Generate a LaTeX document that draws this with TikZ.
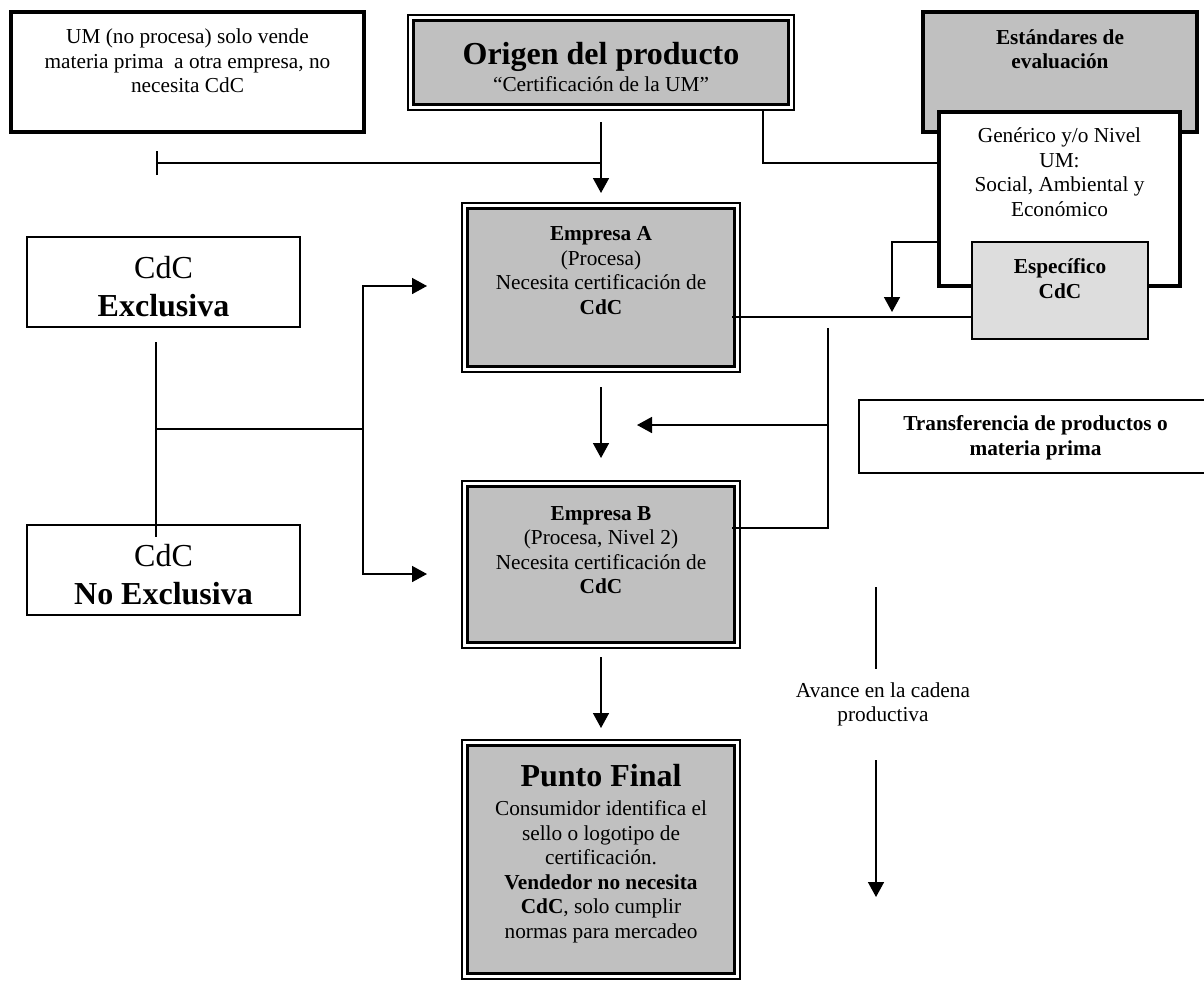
\documentclass[tikz,border=0pt]{standalone}
\usepackage{fontspec}
\setmainfont{Liberation Serif}
\usetikzlibrary{arrows.meta,calc}
\definecolor{boxgray}{HTML}{C0C0C0}
\definecolor{palegray}{HTML}{DDDDDD}
\newcommand{\bodyfont}{\fontsize{21.3}{24.5}\selectfont}
\newcommand{\titlefont}{\fontsize{32}{34}\selectfont\bfseries}
\begin{document}
\begin{tikzpicture}[x=1pt,y=-1pt,
  box/.style={draw, anchor=north west, inner sep=0pt, outer sep=0pt},
  plainbox/.style={box, line width=2pt, fill=white},
  heavybox/.style={box, line width=3.3pt},
  dframe/.style={box, line width=2.2pt, fill=white,
    path picture={\path[fill=boxgray, draw=black, line width=3.3pt]
      ($(path picture bounding box.north west)+(5.5,5.5)$) rectangle
      ($(path picture bounding box.south east)+(-5.5,-5.5)$);}},
  txt/.style={align=center, inner sep=0pt, font=\bodyfont},
  line/.style={line width=1.5pt},
  arr/.style={line width=1.6pt, -{Triangle[length=15pt,width=16pt]}},
]
\useasboundingbox (0,0) rectangle (1204,980);

% boxes
\node[heavybox, fill=white, minimum width=353, minimum height=120] (um) at (11,12) {};
\node[dframe, minimum width=386, minimum height=95] (origen) at (408,15) {};
\node[heavybox, fill=boxgray, minimum width=274, minimum height=120] (estd) at (923,12) {};
\node[heavybox, fill=white, minimum width=241, minimum height=174] (gen) at (939,112) {};
\node[box, line width=2.2pt, fill=palegray, minimum width=176, minimum height=97] (esp) at (972,242) {};
\node[dframe, minimum width=278, minimum height=169] (empA) at (462,203) {};
\node[dframe, minimum width=278, minimum height=167] (empB) at (462,481) {};
\node[dframe, minimum width=278, minimum height=239] (final) at (462,740) {};
\node[plainbox, minimum width=273, minimum height=90] (excl) at (27,237) {};
\node[plainbox, minimum width=273, minimum height=90] (noexcl) at (27,525) {};
\node[box, line width=1.8pt, fill=white, minimum width=353, minimum height=73] (transf) at (859,400) {};

% texts
\node[txt] (um-t) at (187.5,61) {UM (no procesa) solo vende\\materia prima~ a otra empresa, no\\necesita CdC};
\node[txt] (origen-t) at (601,67) {{\titlefont Origen del producto}\\[3.5pt]“Certificación de la UM”};
\node[txt, font=\bodyfont\bfseries] (estd-t) at (1060,49) {Estándares de\\evaluación};
\node[txt] (gen-t) at (1059.5,172) {Genérico y/o Nivel\\UM:\\Social, Ambiental y\\Económico};
\node[txt, font=\bodyfont\bfseries] (esp-t) at (1060,278.5) {Específico\\CdC};
\node[txt] (empA-t) at (601,270.5) {\textbf{Empresa A}\\(Procesa)\\Necesita certificación de\\\textbf{CdC}};
\node[txt] (empB-t) at (601,550) {\textbf{Empresa B}\\(Procesa, Nivel 2)\\Necesita certificación de\\\textbf{CdC}};
\node[txt] (final-t) at (601,853.5) {{\titlefont Punto Final}\\[4.5pt]Consumidor identifica el\\sello o logotipo de\\certificación.\\\textbf{Vendedor no necesita}\\\textbf{CdC}, solo cumplir\\normas para mercadeo};
\node[txt, font=\fontsize{32}{38}\selectfont] (excl-t) at (163.5,286.5) {CdC\\\textbf{Exclusiva}};
\node[txt, font=\fontsize{32}{38}\selectfont] (noexcl-t) at (163.5,574.5) {CdC\\\textbf{No Exclusiva}};
\node[txt, font=\bodyfont\bfseries] (transf-t) at (1035.5,438) {Transferencia de productos o\\materia prima};
\node[txt] (avance) at (883,704.5) {Avance en la cadena\\productiva};

% connector end points
\coordinate (umtick) at (156,163);
\coordinate (genout) at (939,242);
\coordinate (esptip) at (892,312);
\coordinate (aout) at (732,317);
\coordinate (bout) at (732,528);
\coordinate (fbtop) at (828,328);
\coordinate (fbmid) at (828,425);
\coordinate (fbtip) at (637,425);
\coordinate (ctop) at (156,342);
\coordinate (cbot) at (156,537);
\coordinate (cjoin) at (156,429);
\coordinate (csplit) at (363,429);
\coordinate (tipA) at (427,286);
\coordinate (tipB) at (427,574);
\coordinate (av1) at (876,587);
\coordinate (av2) at (876,669);
\coordinate (av3) at (876,760);
\coordinate (av4) at (876,897);

% main flow
\draw[arr] ($(origen.south)+(0,12)$) -- ($(empA.north)+(0,-10)$);
\draw[arr] ($(empA.south)+(0,15)$) -- ($(empB.north)+(0,-23)$);
\draw[arr] ($(empB.south)+(0,9)$) -- ($(final.north)+(0,-12)$);

% raw material sold by the UM
\draw[line, {Bar[width=24pt]}-] (umtick) -- (umtick -| origen.south);

% evaluation standards
\draw[line] ($(origen.south east)+(-31,0)$) |- (gen.west |- umtick);
\draw[arr] (genout) -| (esptip);
\draw[line] (aout) -- (aout -| esp.west);
\draw[line] (bout) -| (fbtop);
\draw[arr] (fbmid) -- (fbtip);

% chain of custody types
\draw[line] (ctop) -- (cbot);
\draw[line] (cjoin) -- (csplit);
\draw[arr] (csplit) |- (tipA);
\draw[arr] (csplit) |- (tipB);

% direction of the production chain
\draw[line] (av1) -- (av2);
\draw[arr] (av3) -- (av4);
\end{tikzpicture}
\end{document}
